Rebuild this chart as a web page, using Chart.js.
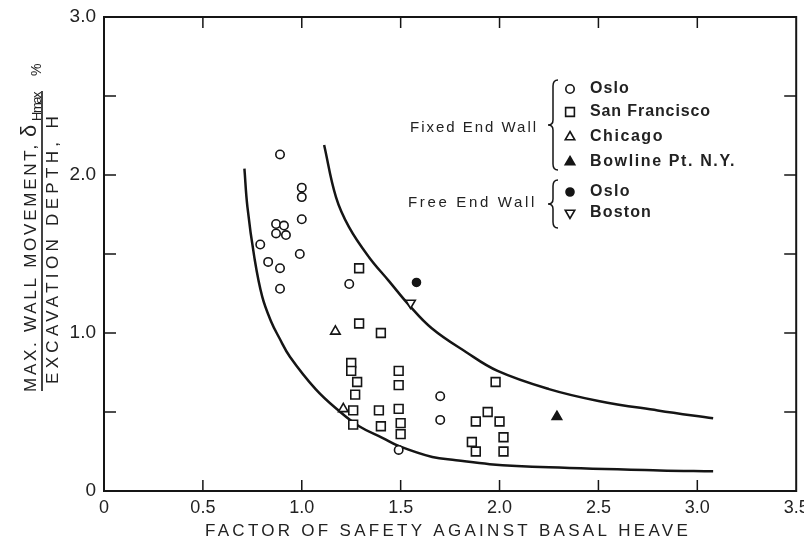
<!DOCTYPE html>
<html>
<head>
<meta charset="utf-8">
<script src="https://cdn.jsdelivr.net/npm/chart.js@4.4.1/dist/chart.umd.min.js"></script>
<style>
  html, body { margin: 0; padding: 0; background: #fff; }
  #wrap { width: 804px; height: 545px; }
</style>
</head>
<body>
<div id="wrap"><canvas id="c" width="804" height="545"></canvas></div>
<script>
// tick values
const xTicks = [0, 0.5, 1, 1.5, 2, 2.5, 3, 3.5]
const yTicks = [0, 0.5, 1, 1.5, 2, 2.5, 3]

// case records, [factor of safety, movement %]
const osloFixed = [[0.89, 2.13], [1.0, 1.92], [1.0, 1.86], [1.0, 1.72], [0.87, 1.69], [0.91, 1.68],
  [0.87, 1.63], [0.92, 1.62], [0.79, 1.56], [0.99, 1.50], [0.83, 1.45], [0.89, 1.41], [0.89, 1.28],
  [1.24, 1.31], [1.70, 0.60], [1.70, 0.45], [1.49, 0.26]]
const sanFrancisco = [[1.29, 1.41], [1.29, 1.06], [1.40, 1.00], [1.25, 0.81], [1.25, 0.76], [1.28, 0.69],
  [1.27, 0.61], [1.26, 0.51], [1.39, 0.51], [1.49, 0.76], [1.49, 0.67], [1.49, 0.52], [1.26, 0.42],
  [1.40, 0.41], [1.50, 0.43], [1.50, 0.36], [1.98, 0.69], [1.94, 0.50], [1.88, 0.44], [2.0, 0.44],
  [2.02, 0.34], [1.86, 0.31], [1.88, 0.25], [2.02, 0.25]]
const chicago = [[1.17, 1.01], [1.21, 0.52]]
const bowline = [[2.29, 0.47]]
const osloFree = [[1.58, 1.32]]
const boston = [[1.55, 1.19]]

// envelope curves
const lowerBound = [[0.71, 2.04], [0.725, 1.80], [0.76, 1.48], [0.80, 1.23], [0.846, 1.07], [0.886, 0.97],
  [0.94, 0.85], [1.07, 0.645], [1.19, 0.505], [1.29, 0.41], [1.41, 0.335], [1.49, 0.285], [1.66, 0.215],
  [1.78, 0.195], [1.95, 0.17], [2.25, 0.15], [2.81, 0.13], [3.08, 0.125]]
const upperBound = [[1.113, 2.19], [1.173, 1.86], [1.239, 1.67], [1.34, 1.48], [1.44, 1.33], [1.54, 1.18],
  [1.657, 1.03], [1.83, 0.88], [1.99, 0.76], [2.25, 0.645], [2.50, 0.57], [2.80, 0.51], [3.08, 0.46]]

const INK = '#151515'
const FONT = "'Liberation Sans', Arial, sans-serif"
const pts = a => a.map(([x, y]) => ({ x, y }))

function marker(label, data, style, fill, radius, rotation = 0) {
  return {
    label, data: pts(data), pointStyle: style, pointRadius: radius, pointRotation: rotation,
    pointBackgroundColor: fill, pointBorderColor: INK, pointBorderWidth: 1.6, showLine: false,
  }
}
function curve(label, data) {
  return {
    label, data: pts(data), showLine: true, pointRadius: 0, borderColor: INK, borderWidth: 2.5,
    tension: 0.4, fill: false,
  }
}

const series = [
  { name: 'Oslo', style: 'circle', fill: '#fff', r: 4.2, rot: 0 },
  { name: 'San Francisco', style: 'rect', fill: '#fff', r: 6.2, rot: 0 },
  { name: 'Chicago', style: 'triangle', fill: '#fff', r: 5.5, rot: 0 },
  { name: 'Bowline Pt. N.Y.', style: 'triangle', fill: INK, r: 5.5, rot: 0 },
  { name: 'Oslo', style: 'circle', fill: INK, r: 4, rot: 0 },
  { name: 'Boston', style: 'triangle', fill: '#fff', r: 5.5, rot: 180 },
]
const groups = [osloFixed, sanFrancisco, chicago, bowline, osloFree, boston]

// stretch text with letter spacing to span a given width
function fitText(ctx, text, x, y, width) {
  ctx.letterSpacing = '0px'
  const w = ctx.measureText(text).width
  ctx.letterSpacing = ((width - w) / text.length) + 'px'
  ctx.fillText(text, x, y)
  ctx.letterSpacing = '0px'
}

function brace(ctx, x, top, bottom) {
  const mid = (top + bottom) / 2
  ctx.beginPath()
  ctx.moveTo(x + 5, top)
  ctx.quadraticCurveTo(x, top, x, top + 6)
  ctx.lineTo(x, mid - 5)
  ctx.quadraticCurveTo(x, mid, x - 5, mid)
  ctx.quadraticCurveTo(x, mid, x, mid + 5)
  ctx.lineTo(x, bottom - 6)
  ctx.quadraticCurveTo(x, bottom, x + 5, bottom)
  ctx.stroke()
}

const decor = {
  id: 'decor',
  afterDraw(chart) {
    const { ctx, chartArea: a, scales: { x, y } } = chart
    ctx.save()
    ctx.strokeStyle = INK
    ctx.fillStyle = INK
    // frame
    ctx.lineWidth = 2
    ctx.strokeRect(a.left, a.top, a.right - a.left, a.bottom - a.top)
    // inward ticks on all sides
    ctx.lineWidth = 1.5
    ctx.beginPath()
    xTicks.slice(1, -1).forEach(v => {
      const px = x.getPixelForValue(v)
      ctx.moveTo(px, a.bottom); ctx.lineTo(px, a.bottom - 11)
      ctx.moveTo(px, a.top); ctx.lineTo(px, a.top + 11)
    })
    yTicks.slice(1, -1).forEach(v => {
      const py = y.getPixelForValue(v)
      ctx.moveTo(a.left, py); ctx.lineTo(a.left + 12, py)
      ctx.moveTo(a.right, py); ctx.lineTo(a.right - 12, py)
    })
    ctx.stroke()

    // x title
    ctx.fillStyle = '#222'
    ctx.textBaseline = 'middle'
    ctx.textAlign = 'left'
    ctx.font = `17px ${FONT}`
    fitText(ctx, 'FACTOR OF SAFETY AGAINST BASAL HEAVE', 205, 531, 486)

    // y title, a fraction set sideways
    ctx.save()
    ctx.translate(31, 392)
    ctx.rotate(-Math.PI / 2)
    ctx.font = `17px ${FONT}`
    fitText(ctx, 'MAX. WALL MOVEMENT,', 0, 0, 250)
    ctx.font = `22px ${FONT}`
    ctx.fillText('δ', 255, -1)
    ctx.font = `13px ${FONT}`
    fitText(ctx, 'Hmax', 271, 6, 28)
    ctx.font = `14px ${FONT}`
    ctx.fillText('%', 316, 6)
    ctx.restore()
    ctx.lineWidth = 1.6
    ctx.beginPath(); ctx.moveTo(42, 91); ctx.lineTo(42, 391); ctx.stroke()
    ctx.save()
    ctx.translate(53, 384)
    ctx.rotate(-Math.PI / 2)
    ctx.font = `17px ${FONT}`
    fitText(ctx, 'EXCAVATION DEPTH, H', 0, 0, 272)
    ctx.restore()

    // legend
    const rows = [89, 112, 137, 162, 192, 213]
    ctx.font = `bold 16px ${FONT}`
    const widths = [40, 121, 74, 146, 41, 62]
    series.forEach((s, i) => {
      ctx.fillStyle = s.fill
      ctx.strokeStyle = INK
      ctx.lineWidth = 1.6
      Chart.helpers.drawPoint(ctx, { pointStyle: s.style, radius: s.r, rotation: s.rot, borderWidth: 1.6 }, 570, rows[i])
      ctx.fillStyle = '#222'
      fitText(ctx, s.name, 590, rows[i], widths[i])
    })
    ctx.font = `15px ${FONT}`
    fitText(ctx, 'Fixed End Wall', 410, 128, 128)
    fitText(ctx, 'Free End Wall', 408, 203, 129)
    ctx.lineWidth = 1.5
    ctx.strokeStyle = INK
    brace(ctx, 553, 80, 170)
    brace(ctx, 553, 180, 228)
    ctx.restore()
  },
}

new Chart(document.getElementById('c'), {
  type: 'scatter',
  data: {
    datasets: [
      ...series.map((s, i) => marker(s.name, groups[i], s.style, s.fill, s.r, s.rot)),
      curve('Lower bound', lowerBound),
      curve('Upper bound', upperBound),
    ],
  },
  options: {
    responsive: false, animation: false,
    layout: { padding: { top: 17, right: 7, bottom: 0, left: 0 } },
    plugins: { legend: { display: false }, tooltip: { enabled: false } },
    scales: {
      x: {
        type: 'linear', min: 0, max: 3.5,
        afterBuildTicks: s => { s.ticks = xTicks.map(value => ({ value })) },
        ticks: { padding: 6, color: '#222', font: { family: FONT, size: 18 },
          callback: v => v === 0 ? '0' : v.toFixed(1) },
        grid: { display: false, drawTicks: false }, border: { display: false },
        afterFit: s => { s.height = 54; s.paddingLeft = 0; s.paddingRight = 0 },
      },
      y: {
        type: 'linear', min: 0, max: 3,
        afterBuildTicks: s => { s.ticks = yTicks.map(value => ({ value })) },
        ticks: { padding: 8, color: '#222', font: { family: FONT, size: 19 },
          callback: v => v === 0 ? '0' : Number.isInteger(v) ? v.toFixed(1) : '' },
        grid: { display: false, drawTicks: false }, border: { display: false },
        afterFit: s => { s.width = 104; s.paddingTop = 0; s.paddingBottom = 0 },
      },
    },
  },
  plugins: [decor],
})
</script>
</body>
</html>
